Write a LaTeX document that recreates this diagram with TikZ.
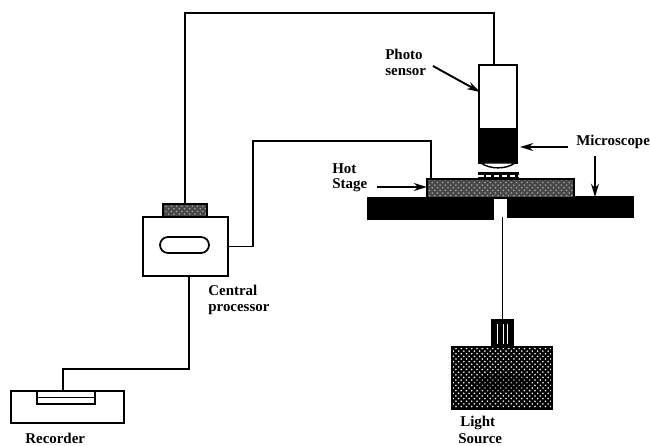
\documentclass[tikz,border=0pt]{standalone}
\usepackage{fontspec}
\setmainfont{Liberation Serif}
\usetikzlibrary{arrows.meta,patterns}
\tikzset{
  unit/.style={draw=black,line width=0.8pt,inner sep=0pt,fill=white},
  solid unit/.style={unit,fill=black},
  grainy/.style={unit,preaction={fill=black!72},pattern=crosshatch dots,pattern color=black!35},
  dotted lamp/.style={unit,preaction={fill=black},pattern=crosshatch dots,pattern color=white},
  wire/.style={line width=0.8pt},
  pointer/.style={-{Stealth[length=7.5pt,width=4.5pt]},line width=1.1pt},
  tag/.style={font=\bfseries\fontsize{8.5}{8.7}\selectfont,align=left,anchor=west,inner sep=0pt}
}

\begin{document}
\begin{tikzpicture}[x=0.02cm,y=-0.02cm]
    \useasboundingbox (0,0) rectangle (650,446);
    \clip (0,0) rectangle (650,446);
    % Microscope
    \node[unit,minimum width=0.76cm,minimum height=1.96cm] (sensor) at (498,114) {};
    \node[solid unit,minimum width=0.76cm,minimum height=0.68cm] (objective) at (498,146) {};
    \draw[wire,fill=white] (481,163) .. controls (490,169.5) and (506,169.5) .. (515,163) -- cycle;
    \node[solid unit,minimum width=0.78cm,minimum height=0.12cm] (sample) at (498.5,176) {};
    \draw[white,line width=1.1pt,dash pattern=on 3pt off 1.5pt] (sample.west) -- (sample.east);
    \node[solid unit,minimum width=2.5cm,minimum height=0.42cm] (stageleft) at (430.5,208.5) {};
    \node[solid unit,minimum width=2.5cm,minimum height=0.40cm] (stageright) at (570.5,207) {};
    \node[grainy,minimum width=2.94cm,minimum height=0.38cm] (hotstage) at (500.5,188.5) {};
    % Light source
    \node[dotted lamp,minimum width=2.0cm,minimum height=1.24cm] (source) at (502,378) {};
    \fill[black,opacity=0.35] (502,383) ellipse (30 and 9);
    \node[solid unit,minimum width=0.42cm,minimum height=0.54cm] (neck) at (502.5,333.5) {};
    \foreach \x in {497,503,507} {
      \draw[white,line width=0.5pt] (\x,324) -- (\x,344);
    }
    % Central processor
    \node[grainy,minimum width=0.88cm,minimum height=0.26cm] (pad) at (185,210.5) {};
    \node[unit,minimum width=1.7cm,minimum height=1.18cm] (processor) at (185.5,246.5) {};
    \node[unit,line width=1pt,rounded corners=0.16cm,minimum width=0.98cm,minimum height=0.32cm] (slot) at (184.5,245) {};
    % Recorder
    \node[unit,minimum width=2.26cm,minimum height=0.64cm] (recorder) at (67.5,407) {};
    \node[unit,line width=1pt,minimum width=1.16cm,minimum height=0.26cm] (tray) at (66,397.5) {};
    \draw[wire] (tray.west) -- (tray.east);
    % Wires
    \coordinate (topturn) at (494,13);
    \coordinate (sensorport) at (494,65);
    \coordinate (procturn) at (253,141);
    \coordinate (stageport) at (431,179);
    \coordinate (procout) at (189,276);
    \coordinate (recturn) at (63,369);
    \coordinate (recport) at (63,391);
    \coordinate (stageout) at (502.5,217);
    \draw[wire] (pad.north) |- (topturn) -- (sensorport);
    \draw[wire] (processor.east) -| (procturn) -| (stageport);
    \draw[wire] (procout) |- (recturn) -- (recport);
    \draw[wire] (stageout) -- (neck.north);
    % Labels
    \node[tag] (photolabel) at (385,62.5) {Photo\\sensor};
    \node[tag] (scopelabel) at (576,142) {Microscope};
    \node[tag] (hotlabel) at (332,177.5) {Hot\\Stage};
    \node[tag] (cpulabel) at (208,300) {Central\\processor};
    \node[tag] (recorderlabel) at (25,438) {Recorder};
    \node[tag] (lightlabel) at (460,423) {Light};
    \node[tag] (sourcelabel) at (458,439) {Source};
    % Arrows
    \coordinate (photofrom) at (433,66);
    \coordinate (phototo) at (480,92);
    \coordinate (scopefrom) at (568,147);
    \coordinate (scopeto) at (520,147);
    \coordinate (stagefrom) at (595,156);
    \coordinate (stageto) at (595,197);
    \coordinate (hotfrom) at (377,187);
    \coordinate (hotto) at (427,187);
    \draw[pointer] (photofrom) -- (phototo);
    \draw[pointer] (scopefrom) -- (scopeto);
    \draw[pointer] (stagefrom) -- (stageto);
    \draw[pointer] (hotfrom) -- (hotto);
  \end{tikzpicture}
\end{document}
